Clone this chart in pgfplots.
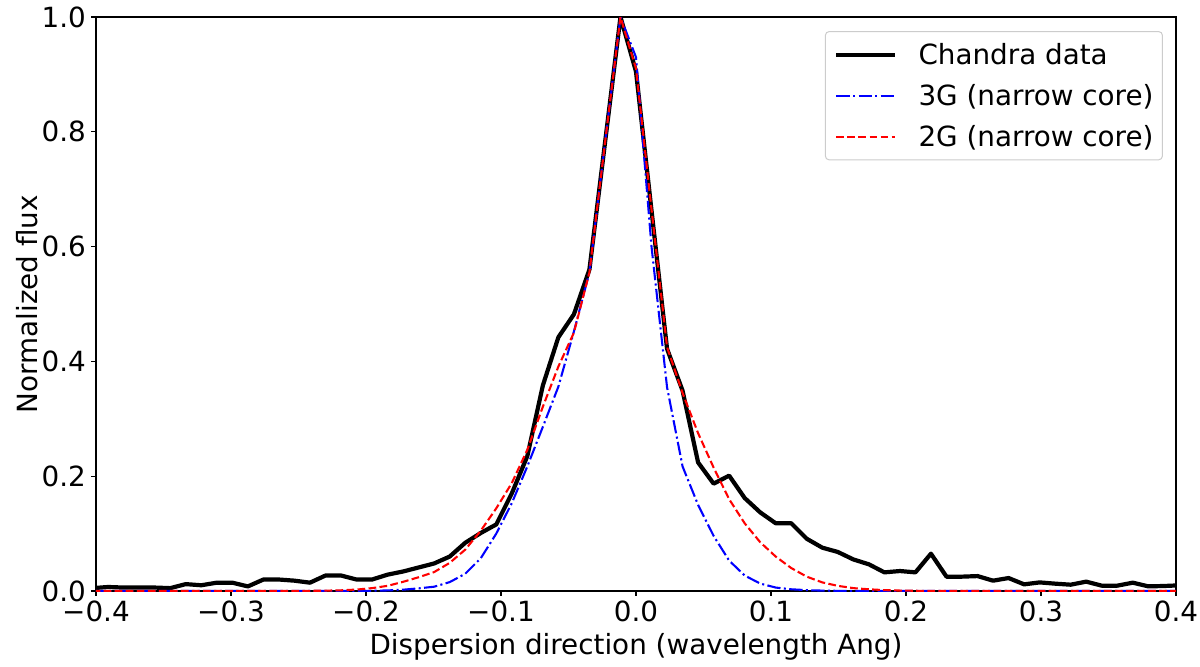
\documentclass[border=0pt]{standalone}
\usepackage{fontspec}
\setmainfont{DejaVu Sans}
\usepackage{pgfplots}
\pgfplotsset{compat=1.18}
\usepackage{pgfplotstable}
\pgfplotstableread{
x data gthree gtwo
-0.4025 0.005 0 0
-0.3910 0.007 0 0
-0.3795 0.006 0 0
-0.3680 0.006 0 0
-0.3565 0.006 0 0
-0.3450 0.005 0 0
-0.3335 0.012 0 0
-0.3220 0.010 0 0
-0.3105 0.0145 0 0
-0.2990 0.0145 0 0
-0.2875 0.008 0 0
-0.2760 0.020 0 0
-0.2645 0.020 0 0
-0.2530 0.018 0 0.0001
-0.2415 0.0145 0 0.0003
-0.2300 0.027 0 0.0006
-0.2185 0.027 0 0.0012
-0.2070 0.020 0.0001 0.0025
-0.1955 0.020 0.0004 0.005
-0.1840 0.0285 0.001 0.009
-0.1725 0.034 0.0023 0.016
-0.1610 0.041 0.0046 0.024
-0.1495 0.048 0.0075 0.033
-0.1380 0.060 0.0155 0.049
-0.1265 0.084 0.030 0.072
-0.1150 0.101 0.057 0.105
-0.1035 0.116 0.100 0.144
-0.0920 0.170 0.153 0.188
-0.0805 0.235 0.217 0.246
-0.0690 0.358 0.286 0.321
-0.0575 0.442 0.356 0.391
-0.0460 0.482 0.452 0.450
-0.0345 0.560 0.555 0.555
-0.0230 0.780 0.780 0.780
-0.0115 1.000 1.000 1.000
0.0000 0.905 0.930 0.910
0.0115 0.663 0.600 0.665
0.0230 0.422 0.355 0.425
0.0345 0.349 0.217 0.345
0.0460 0.224 0.150 0.275
0.0575 0.187 0.096 0.215
0.0690 0.201 0.053 0.160
0.0805 0.162 0.027 0.118
0.0920 0.137 0.013 0.085
0.1035 0.118 0.006 0.060
0.1150 0.118 0.003 0.040
0.1265 0.091 0.0015 0.025
0.1380 0.0755 0.0007 0.015
0.1495 0.068 0.0003 0.009
0.1610 0.055 0.0001 0.005
0.1725 0.0465 0 0.003
0.1840 0.0325 0 0.0015
0.1955 0.0348 0 0.0008
0.2070 0.0325 0 0.0004
0.2185 0.065 0 0.0002
0.2300 0.025 0 0.0001
0.2415 0.025 0 0
0.2530 0.026 0 0
0.2645 0.018 0 0
0.2760 0.0226 0 0
0.2875 0.0116 0 0
0.2990 0.015 0 0
0.3105 0.0128 0 0
0.3220 0.011 0 0
0.3335 0.0163 0 0
0.3450 0.0093 0 0
0.3565 0.0093 0 0
0.3680 0.0145 0 0
0.3795 0.0081 0 0
0.3910 0.0087 0 0
0.4025 0.0099 0 0
}\mytable
\begin{document}
\fontsize{13.9}{16.7}\selectfont
\begin{tikzpicture}
\path[use as bounding box] (0,0) rectangle (600pt,333pt);
\begin{axis}[
  at={(48pt,37.5pt)}, anchor=south west,
  width=540pt, height=287pt, scale only axis,
  xmin=-0.4, xmax=0.4, ymin=0, ymax=1,
  xtick={-0.4,-0.3,-0.2,-0.1,0,0.1,0.2,0.3,0.4},
  xticklabels={−0.4,−0.3,−0.2,−0.1,0.0,0.1,0.2,0.3,0.4},
  ytick={0,0.2,0.4,0.6,0.8,1.0},
  yticklabels={0.0,0.2,0.4,0.6,0.8,1.0},
  tick align=outside, tick pos=left,
  major tick length=2.43pt,
  axis line style={line width=0.56pt},
  every tick/.style={black, line width=0.56pt},
  tick label style={font=\fontsize{13.9}{16.7}\selectfont, inner sep=0pt},
  xticklabel style={yshift=-2.43pt},
  yticklabel style={xshift=-2.43pt},
  xlabel={Dispersion direction (wavelength Ang)},
  ylabel={Normalized flux},
  label style={font=\fontsize{13.9}{16.7}\selectfont, inner sep=0pt},
  xlabel style={at={(axis description cs:0.5,-0.0732)}, anchor=north},
  ylabel style={at={(axis description cs:-0.0537,0.5)}, anchor=south, rotate=0},
  legend cell align=left,
  legend style={at={(1,1)}, anchor=north east, xshift=-6.5pt, yshift=-7pt,
    draw=black!20, rounded corners=2pt, line width=0.5pt,
    font=\fontsize{13.9}{16.7}\selectfont,
    inner xsep=4.5pt, inner ysep=6pt, row sep=9.3pt,
    nodes={inner sep=0pt, text height=10.6pt, text depth=0.6pt}},
  legend image code/.code={\draw[#1] (0pt,0pt) -- (29.5pt,0pt); \path (40pt,0pt);},
]
\addplot[black, line width=2.1pt, line join=round] table[x=x, y=data] {\mytable};
\addlegendentry{Chandra data}
\addplot[blue, line width=1.04pt, dash pattern=on 6.67pt off 1.67pt on 1.04pt off 1.67pt] table[x=x, y=gthree] {\mytable};
\addlegendentry{3G (narrow core)}
\addplot[red, line width=1.04pt, dash pattern=on 3.85pt off 1.67pt] table[x=x, y=gtwo] {\mytable};
\addlegendentry{2G (narrow core)}
\end{axis}
\end{tikzpicture}
\end{document}
